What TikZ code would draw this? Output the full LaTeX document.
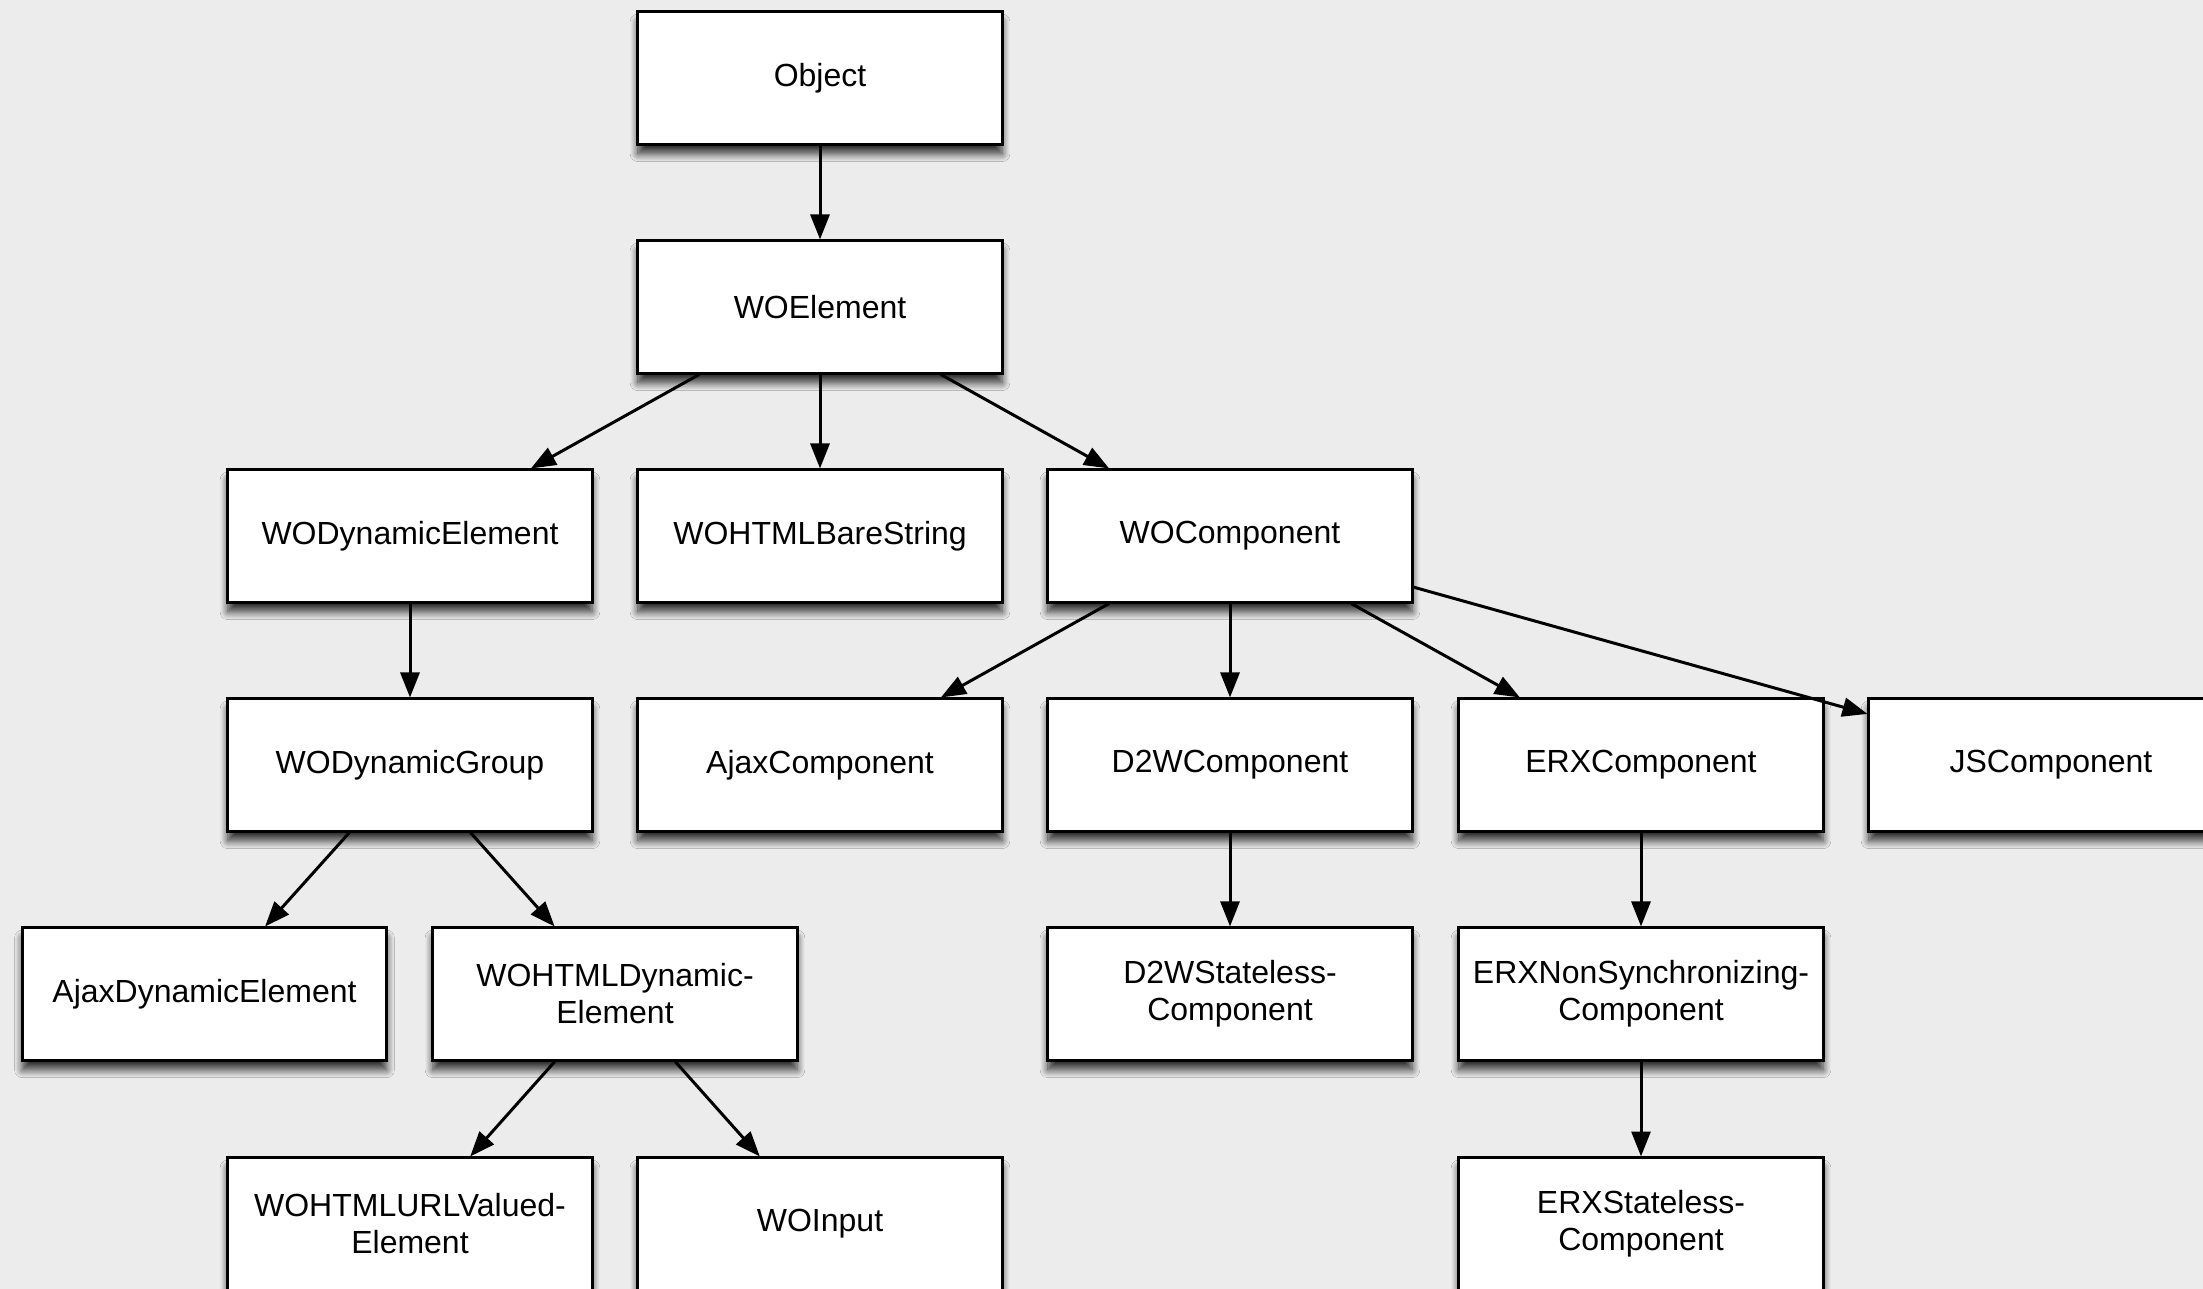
\documentclass[tikz,border=0pt]{standalone}
\usepackage{fontspec}
\setmainfont{Liberation Sans}
\usetikzlibrary{arrows.meta,shadows.blur}
\definecolor{bg}{RGB}{236,236,236}
\begin{document}
\begin{tikzpicture}[x=0.01cm,y=-0.01cm,
  box/.style={draw=black, line width=0.85pt, fill=white,
    minimum width=3.64cm, minimum height=1.32cm, inner sep=0pt, align=center,
    font=\fontsize{9.1pt}{10.5pt}\selectfont,
    blur shadow={shadow xshift=0pt, shadow yshift=-2.8pt, shadow blur radius=2.2pt, shadow blur steps=10, shadow opacity=80}},
  arr/.style={line width=0.85pt, -{Triangle[length=7.1pt,width=5.4pt]}}]
\fill[bg] (0,0) rectangle (2203,1289);
\useasboundingbox (0,0) rectangle (2203,1289);
\clip (0,0) rectangle (2203,1289);
\node[box] (obj) at (820,78) {Object};
\node[box] (woe) at (820,307) {WOElement};
\node[box] (wode) at (410,536) {WODynamicElement};
\node[box] (wobs) at (820,536) {WOHTMLBareString};
\node[box] (woc) at (1230,536) {WOComponent};
\node[box] (wodg) at (410,765) {WODynamicGroup};
\node[box] (ajc) at (820,765) {AjaxComponent};
\node[box] (d2w) at (1230,765) {D2WComponent};
\node[box] (erx) at (1641,765) {ERXComponent};
\node[box] (js) at (2051,765) {JSComponent};
\node[box] (ajde) at (204.5,994) {AjaxDynamicElement};
\node[box] (wohde) at (615,994) {WOHTMLDynamic-\\Element};
\node[box] (d2ws) at (1230,994) {D2WStateless-\\Component};
\node[box] (erxns) at (1641,994) {ERXNonSynchronizing-\\Component};
\node[box] (wourl) at (410,1224) {WOHTMLURLValued-\\Element};
\node[box] (woin) at (820,1224) {WOInput};
\node[box] (erxs) at (1641,1224) {ERXStateless-\\Component};
\draw[arr] (obj) -- (woe);
\draw[arr] (woe) -- (wode);
\draw[arr] (woe) -- (wobs);
\draw[arr] (woe) -- (woc);
\draw[arr] (wode) -- (wodg);
\draw[arr] (woc) -- (ajc);
\draw[arr] (woc) -- (d2w);
\draw[arr] (woc) -- (erx);
\draw[arr] (woc) -- (js);
\draw[arr] (wodg) -- (ajde);
\draw[arr] (wodg) -- (wohde);
\draw[arr] (wohde) -- (wourl);
\draw[arr] (wohde) -- (woin);
\draw[arr] (d2w) -- (d2ws);
\draw[arr] (erx) -- (erxns);
\draw[arr] (erxns) -- (erxs);
\end{tikzpicture}
\end{document}
